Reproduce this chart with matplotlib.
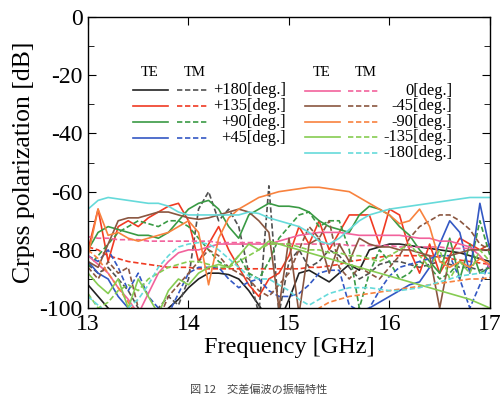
import numpy as np
import matplotlib
matplotlib.use("Agg")
import matplotlib.pyplot as plt
from matplotlib.ticker import MultipleLocator

plt.rcParams['font.family'] = ['Liberation Serif', 'Noto Sans CJK JP']
plt.rcParams['axes.unicode_minus'] = False

# frequency grid [GHz]
freq = np.linspace(13.0, 17.0, 41)

# TE (solid) / TM (dashed) cross polarization [dB]
p180_te = [-92, -96, -100, -103, -105, -105, -105, -104, -100, -97,
           -93, -90, -88, -88, -88.5, -90, -94, -99, -104, -105,
           -97, -88, -87, -89, -91, -88, -85, -87, -80, -79,
           -78, -78, -78.5, -79, -79.5, -80, -80.5, -81, -82, -83, -84]
p180_tm = [-85, -88, -86, -90, -94, -100, -104, -100, -96, -99,
           -90, -66, -60, -70, -66, -72, -88, -102, -58, -102,
           -84, -80, -86, -84, -80, -82, -86, -90, -88, -85,
           -84, -84, -85, -86, -85, -84, -85, -86, -86, -87, -86]
p135_te = [-80, -66, -84, -72, -70, -72, -69, -67, -65, -64,
           -70, -84, -78, -72, -80, -86, -92, -96, -90, -88,
           -82, -72, -78, -70, -80, -74, -68, -68, -68, -78,
           -66, -68, -80, -88, -78, -88, -82, -76, -78, -80, -78]
p135_tm = [-79, -80, -82, -83, -84, -84.5, -85, -85.5, -86, -86,
           -86, -86.5, -86.5, -86.5, -86.5, -86.5, -86.5, -86.5, -86.5, -86.5,
           -86.5, -86.5, -86, -86, -85.5, -85, -84, -83.5, -83, -82.5,
           -82, -82, -82, -82, -82, -82.5, -83, -83.5, -84, -84.5, -85]
p90_te = [-80, -74, -72, -73, -74, -75, -75, -76, -74, -70,
          -66, -64, -63, -66, -72, -76, -68, -66, -64, -65,
          -65, -65.5, -67, -70, -72, -73, -74, -68, -65, -66,
          -68, -72, -75, -80, -84, -88, -76, -90, -78, -88, -86]
p90_tm = [-86, -82, -78, -74, -72, -70, -71, -72, -70, -70,
          -72, -76, -80, -84, -86, -82, -88, -90, -84, -76,
          -72, -68, -67, -72, -70, -70, -80, -100, -88, -80,
          -84, -90, -88, -84, -86, -90, -88, -84, -86, -70, -82]
p45_te = [-84, -88, -90, -96, -100, -104, -105, -105, -105, -105,
          -105, -105, -105, -105, -105, -105, -105, -105, -105, -105,
          -105, -105, -105, -105, -105, -105, -105, -105, -100, -98,
          -96, -94, -92, -91, -86, -78, -70, -74, -88, -64, -80]
p45_tm = [-82, -84, -80, -86, -94, -88, -96, -100, -102, -95,
          -88, -86, -86, -86, -90, -93, -91, -90, -94, -96,
          -96, -95, -92, -88, -87, -87, -99, -101, -100, -94,
          -89, -86, -85, -84, -83, -82, -82, -90, -100, -92, -84]
p0_te = [-82, -85, -88, -93, -97, -102, -95, -88, -84, -81,
         -80, -80, -79, -78, -78, -78, -78, -78, -78, -77,
         -76, -75, -74.5, -74, -74, -74, -74.5, -75, -75, -75,
         -75, -75, -75.5, -76, -76, -77, -77, -78, -79, -82, -86]
p0_tm = [-75.5, -76, -76, -76.5, -76.5, -76.5, -77, -77, -77, -77,
         -77, -77, -77, -77.5, -77.5, -77.5, -77.5, -77.5, -78, -78,
         -78, -78, -78, -78, -78, -78, -78.5, -78.5, -78.5, -78.5,
         -78.5, -79, -79, -79, -79, -79, -79.5, -79.5, -79.5, -80, -80]
m45_te = [-84, -86, -78, -70, -69, -69, -68, -67, -67, -68,
          -69, -69.5, -69, -68, -67, -66, -67, -70, -74, -100,
          -76, -102, -78, -76, -88, -78, -84, -76, -78, -79,
          -79, -80, -80, -81, -82, -100, -82, -81, -80, -80, -80]
m45_tm = [-86, -90, -84, -88, -86, -100, -104, -104, -96, -92,
          -88, -84, -80, -82, -86, -88, -90, -94, -96, -92,
          -88, -80, -72, -76, -70, -86, -90, -86, -88, -90,
          -86, -82, -76, -72, -70, -68, -68, -70, -73, -78, -80]
m90_te = [-82, -66, -75, -74, -76, -77, -76, -75, -74, -72,
          -70, -74, -92, -76, -69, -66, -64, -62, -61, -60,
          -59.5, -59, -58.5, -58.5, -59, -59.5, -60, -62, -64, -66,
          -68, -71, -70, -66, -72, -84, -86, -84, -86, -83, -85]
m90_tm = [-80, -83, -88, -93, -98, -103, -105, -105, -105, -105,
          -105, -105, -105, -105, -105, -105, -105, -105, -105, -105,
          -105, -105, -105, -100, -98, -97, -96, -95.5, -95, -94.5,
          -94, -93.5, -93, -92.5, -92, -91.5, -91, -90.5, -90, -90, -89.5]
m135_te = [-88, -92, -95, -90, -100, -90, -96, -102, -94, -90,
           -92, -88, -86, -85, -86, -82, -78, -80, -77, -78,
           -79, -80, -81, -82, -83, -84, -85, -86, -87, -88,
           -89, -90, -91, -92, -93, -94, -95, -96, -97, -98.5, -100]
m135_tm = [-95, -100, -98, -94, -92, -94, -90, -88, -86, -85,
           -84, -84, -85, -86, -86, -84, -82, -80, -78, -78,
           -78, -79, -80, -80, -81, -81, -82, -82, -83, -84,
           -82, -80, -78, -82, -86, -80, -90, -84, -88, -80, -84]
m180_te = [-66, -63, -62, -62.5, -63, -63.5, -64, -64, -65, -67,
           -68, -68, -68, -68, -68, -68, -67, -67.5, -69, -70,
           -71, -72, -74, -77, -78, -76, -73, -70, -68, -67,
           -66, -65.5, -65, -64.5, -64, -63.5, -63, -62.5, -62, -62, -62]
m180_tm = [-96, -99, -102, -102, -100, -97, -92, -86, -82, -79,
           -78, -77.5, -78, -80, -83, -86, -89, -90, -90, -92,
           -94, -97, -99, -97, -95, -94, -93, -93, -93, -93.5,
           -94, -94, -93.5, -93, -92, -91, -90, -89, -88.5, -88, -88]

labels_1 = ['+180[deg.]', '+135[deg.]', '+90[deg.]', '+45[deg.]']
labels_2 = ['0[deg.]', '-45[deg.]', '-90[deg.]', '-135[deg.]', '-180[deg.]']
colors_1 = ['#222222', '#f03a22', '#3a9a44', '#3358c4']
colors_2 = ['#f2629c', '#8a5640', '#f8823e', '#86cc52', '#66dada']
tm_colors_1 = ['#505050', '#f03a22', '#3a9a44', '#3358c4']
te_data_1 = [p180_te, p135_te, p90_te, p45_te]
tm_data_1 = [p180_tm, p135_tm, p90_tm, p45_tm]
te_data_2 = [p0_te, m45_te, m90_te, m135_te, m180_te]
tm_data_2 = [p0_tm, m45_tm, m90_tm, m135_tm, m180_tm]

dash = (0, (3.2, 1.6))
lw = 1.2

fig = plt.figure(figsize=(5.03, 3.96), dpi=100)
ax = fig.add_axes([0.175, 0.222, 0.799, 0.735])

for te, tm, c, ctm in zip(te_data_1, tm_data_1, colors_1, tm_colors_1):
    ax.plot(freq, te, color=c, lw=lw)
    ax.plot(freq, tm, color=ctm, lw=lw, ls=dash)
for te, tm, c in zip(te_data_2, tm_data_2, colors_2):
    ax.plot(freq, te, color=c, lw=lw)
    ax.plot(freq, tm, color=c, lw=lw, ls=dash)

ax.set_xlim(13, 17)
ax.set_ylim(-100, 0)
ax.xaxis.set_major_locator(MultipleLocator(1))
ax.yaxis.set_major_locator(MultipleLocator(20))
ax.yaxis.set_minor_locator(MultipleLocator(10))
ax.tick_params(which='both', direction='in', top=True, right=True,
               labelsize=17, pad=4)
ax.tick_params(which='major', length=6)
ax.tick_params(which='minor', length=4)
for s in ax.spines.values():
    s.set_linewidth(1.0)

ax.set_xlabel('Frequency [GHz]', fontsize=17.5, labelpad=2)
ax.set_ylabel('Crpss polarization [dB]', fontsize=18.5, labelpad=3)

# hand-made legend blocks (TE solid / TM dashed)
tr = ax.transAxes
ax.text(0.154, 0.811, 'TE', transform=tr, fontsize=10.5, ha='center', va='center')
ax.text(0.266, 0.811, 'TM', transform=tr, fontsize=10.5, ha='center', va='center')
for k, (lab, c, ctm) in enumerate(zip(labels_1, colors_1, tm_colors_1)):
    y = 0.749 - k * 0.055
    ax.plot([0.112, 0.199], [y, y], color=c, lw=lw, transform=tr)
    ax.plot([0.221, 0.299], [y, y], color=ctm, lw=lw, ls=dash, transform=tr)
    ax.text(0.492, y, lab, transform=tr, fontsize=11.8, ha='right', va='center')

ax.text(0.582, 0.811, 'TE', transform=tr, fontsize=10.5, ha='center', va='center')
ax.text(0.692, 0.811, 'TM', transform=tr, fontsize=10.5, ha='center', va='center')
for k, (lab, c) in enumerate(zip(labels_2, colors_2)):
    y = 0.746 - k * 0.053
    ax.plot([0.540, 0.627], [y, y], color=c, lw=lw, transform=tr)
    ax.plot([0.647, 0.726], [y, y], color=c, lw=lw, ls=dash, transform=tr)
    ax.text(0.907, y, lab, transform=tr, fontsize=11.8, ha='right', va='center')

# figure caption at the bottom edge
fig.text(0.515, 0.003, '図 12　交差偏波の振幅特性', ha='center', va='bottom',
         fontsize=8, color='#444444', family=['Noto Sans CJK JP'])

fig.savefig('out.png', dpi=100)
